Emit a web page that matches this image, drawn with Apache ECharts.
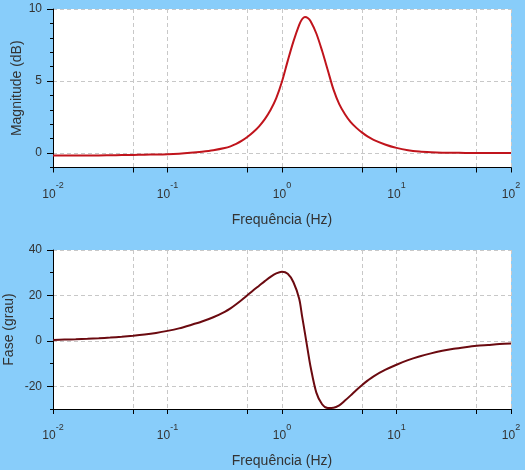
<!DOCTYPE html>
<html><head><meta charset="utf-8">
<script src="https://cdn.jsdelivr.net/npm/echarts@6/dist/echarts.min.js"></script>
<style>html,body{margin:0;padding:0;background:#88CDFA;}#c{width:525px;height:470px;}</style>
</head><body><div id="c"></div>
<script>
// Frequency samples (Hz)
const freqHz = [0.01, 0.0126, 0.0158, 0.02, 0.0251, 0.0316, 0.0398, 0.0501, 0.0631, 0.0794, 0.1, 0.126, 0.158, 0.2, 0.251,
  0.316, 0.355, 0.398, 0.447, 0.501, 0.562, 0.631, 0.708, 0.794, 0.891, 1, 1.122, 1.259, 1.413, 1.496, 1.585, 1.679, 1.778, 1.995,
  2.239, 2.512, 2.818, 3.162, 3.548, 3.981, 4.467, 5.012, 5.623, 6.31,
  7.94, 10, 12.6, 15.8, 20, 25.1, 31.6, 39.8, 50.1, 63.1, 79.4, 100];
// Magnitude (dB)
const magnitudeDb = [-0.17, -0.17, -0.17, -0.16, -0.16, -0.15, -0.14, -0.13, -0.11, -0.10, -0.08, -0.04, 0.02, 0.10, 0.2,
  0.35, 0.47, 0.64, 0.86, 1.13, 1.46, 1.86, 2.36, 2.99, 3.82, 4.97, 6.4, 7.75, 8.9, 9.29, 9.44, 9.38, 9.15, 8.3,
  7.1, 5.75, 4.4, 3.4, 2.7, 2.15, 1.75, 1.42, 1.14, 0.92,
  0.6, 0.36, 0.2, 0.11, 0.06, 0.03, 0.02, 0.01, 0, 0, 0, 0];
// Phase (deg)
const phaseDeg = [0.4, 0.55, 0.7, 0.9, 1.15, 1.45, 1.8, 2.25, 2.8, 3.5, 4.4, 5.5, 6.9, 8.5, 10.4,
  12.8, 14.3, 16.1, 18.1, 20.2, 22.3, 24.3, 26.3, 28.2, 29.7, 30.4, 29.5, 25.8, 18.5, 11.0, 3.5, -4.2, -11.5, -22.8,
  -27.9, -29.6, -29.5, -28.4, -26.3, -24.0, -21.6, -19.4, -17.4, -15.6,
  -12.8, -10.5, -8.5, -6.9, -5.5, -4.4, -3.5, -2.8, -2.2, -1.8, -1.4, -1.2];

const halfDecadeFreqs = [0.05, 0.5, 5, 50];
const magLabelTicks = [0, 5, 10];
const phaseLabelTicks = [-20, 0, 20, 40];

const FONT = "'Liberation Sans', Arial, sans-serif";
const TXT = '#333';
const gridLine = { show: true, lineStyle: { color: '#c8c8c8', type: [4, 3], width: 1 } };
const blackLine = { show: true, onZero: false, lineStyle: { color: '#000', width: 1 } };

function logLabel(v) {
  const e = Math.round(Math.log10(v));
  return '{b|10}{s|' + e + '}';
}

function xAxes(gi, gap) {
  return [
    {
      gridIndex: gi, type: 'log', logBase: 10, min: 0.01, max: 100,
      name: 'Frequência (Hz)', nameLocation: 'middle', nameGap: gap, nameMoveOverlap: false,
      nameTextStyle: { fontSize: 14, color: TXT, fontFamily: FONT },
      axisLine: blackLine,
      axisTick: { show: true, length: 5, lineStyle: { color: '#000' } },
      axisLabel: {
        margin: 14, formatter: logLabel, color: TXT, fontFamily: FONT,
        rich: {
          b: { fontSize: 12, color: TXT, fontFamily: FONT, verticalAlign: 'bottom', padding: [7, 0, 0, 0] },
          s: { fontSize: 9, color: TXT, fontFamily: FONT, verticalAlign: 'top' }
        }
      },
      splitLine: gridLine
    },
    {
      gridIndex: gi, type: 'value', min: -2, max: 2, position: 'bottom',
      axisLine: { show: false, onZero: false },
      axisTick: { show: true, length: 5, customValues: halfDecadeFreqs.map(f => Math.log10(f)), lineStyle: { color: '#000' } },
      axisLabel: { show: false },
      splitLine: gridLine
    }
  ];
}

function yAxes(gi, name, min, max, labels, minorStep, gap) {
  return [
    {
      gridIndex: gi, type: 'value', min: min, max: max,
      name: name, nameLocation: 'middle', nameGap: gap, nameMoveOverlap: false,
      nameTextStyle: { fontSize: 14, color: TXT, fontFamily: FONT },
      axisLine: blackLine,
      axisTick: { show: true, length: 6, customValues: labels, lineStyle: { color: '#000' } },
      axisLabel: { customValues: labels, margin: 11, fontSize: 12, color: TXT, fontFamily: FONT },
      splitLine: gridLine
    },
    {
      gridIndex: gi, type: 'value', min: min, max: max, interval: minorStep, position: 'left',
      axisLine: { show: false, onZero: false },
      axisTick: { show: true, length: 3, lineStyle: { color: '#000' } },
      axisLabel: { show: false },
      splitLine: { show: false }
    }
  ];
}

const chart = echarts.init(document.getElementById('c'), null, { renderer: 'canvas' });
chart.setOption({
  animation: false,
  backgroundColor: '#88CDFA',
  grid: [
    { left: 53, right: 14, top: 9, height: 158.5, show: true, backgroundColor: '#fff', borderWidth: 0, containLabel: false, outerBoundsMode: 'none' },
    { left: 53, right: 14, top: 250, height: 159, show: true, backgroundColor: '#fff', borderWidth: 0, containLabel: false, outerBoundsMode: 'none' }
  ],
  xAxis: [...xAxes(0, 46), ...xAxes(1, 45)],
  yAxis: [
    ...yAxes(0, 'Magnitude (dB)', -1, 10, magLabelTicks, 1, 29),
    ...yAxes(1, 'Fase (grau)', -30, 40, phaseLabelTicks, 10, 37)
  ],
  series: [
    {
      type: 'line', xAxisIndex: 0, yAxisIndex: 0, showSymbol: false, smooth: 0.3,
      lineStyle: { color: '#C0141C', width: 2 },
      data: freqHz.map((f, i) => [f, magnitudeDb[i]])
    },
    {
      type: 'line', xAxisIndex: 2, yAxisIndex: 2, showSymbol: false, smooth: 0.3,
      lineStyle: { color: '#6B0A10', width: 2 },
      data: freqHz.map((f, i) => [f, phaseDeg[i]])
    }
  ]
});
</script></body></html>
